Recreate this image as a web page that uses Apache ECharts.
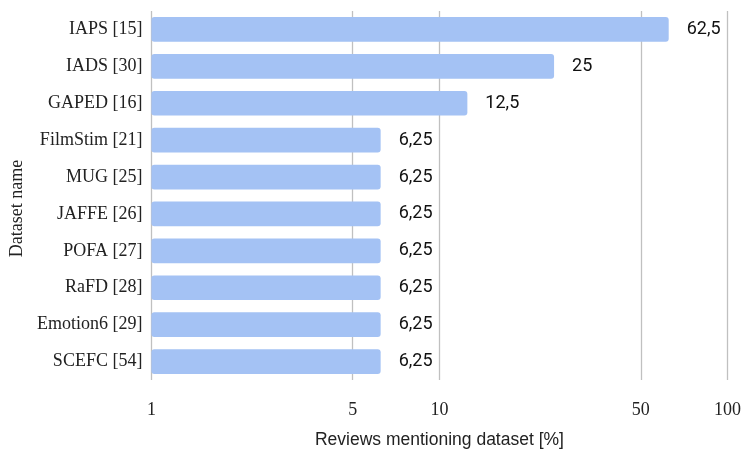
<!DOCTYPE html>
<html>
<head>
<meta charset="utf-8">
<script src="https://cdn.jsdelivr.net/npm/echarts@6/dist/echarts.min.js"></script>
<style>html,body{margin:0;padding:0;background:#fff}#c{width:744px;height:454px}</style>
</head>
<body>
<div id="c"></div>
<script>
const categories = ["IAPS [15]", "IADS [30]", "GAPED [16]", "FilmStim [21]", "MUG [25]", "JAFFE [26]", "POFA [27]", "RaFD [28]", "Emotion6 [29]", "SCEFC [54]"];
const values = [62.5, 25, 12.5, 6.25, 6.25, 6.25, 6.25, 6.25, 6.25, 6.25];
const tickValues = [1, 5, 10, 50, 100];

const chart = echarts.init(document.getElementById('c'));
chart.setOption({
  animation: false,
  grid: { left: 151, right: 15, top: 11, bottom: 68, containLabel: false },
  xAxis: {
    type: 'log', logBase: 10, min: 1, max: 100,
    name: 'Reviews mentioning dataset [%]', nameLocation: 'middle', nameGap: 51,
    nameTextStyle: { fontFamily: 'Liberation Sans', fontSize: 17.5, color: '#222' },
    axisLine: { show: false },
    axisTick: { show: false, customValues: tickValues },
    axisLabel: { customValues: tickValues, fontFamily: 'Liberation Serif', fontSize: 18, color: '#222', margin: 21 },
    splitLine: { show: true, lineStyle: { color: '#c0c0c0', width: 1.3 } }
  },
  yAxis: {
    type: 'category', data: categories, inverse: true,
    name: 'Dataset name', nameLocation: 'middle', nameGap: 121, nameRotate: 90,
    nameTextStyle: { fontFamily: 'Liberation Serif', fontSize: 18, color: '#222', padding: [0, 26, 0, 0] },
    axisLine: { show: false }, axisTick: { show: false },
    axisLabel: { fontFamily: 'Liberation Serif', fontSize: 18, color: '#222', margin: 9 }
  },
  series: [{
    type: 'bar', data: values, barCategoryGap: '33%',
    itemStyle: { color: '#a4c2f4', borderRadius: 3 },
    label: {
      show: true, position: 'right', distance: 18,
      fontFamily: 'Roboto', fontSize: 18, color: '#111',
      formatter: p => String(p.value).replace('.', ',')
    }
  }]
});
</script>
</body>
</html>
